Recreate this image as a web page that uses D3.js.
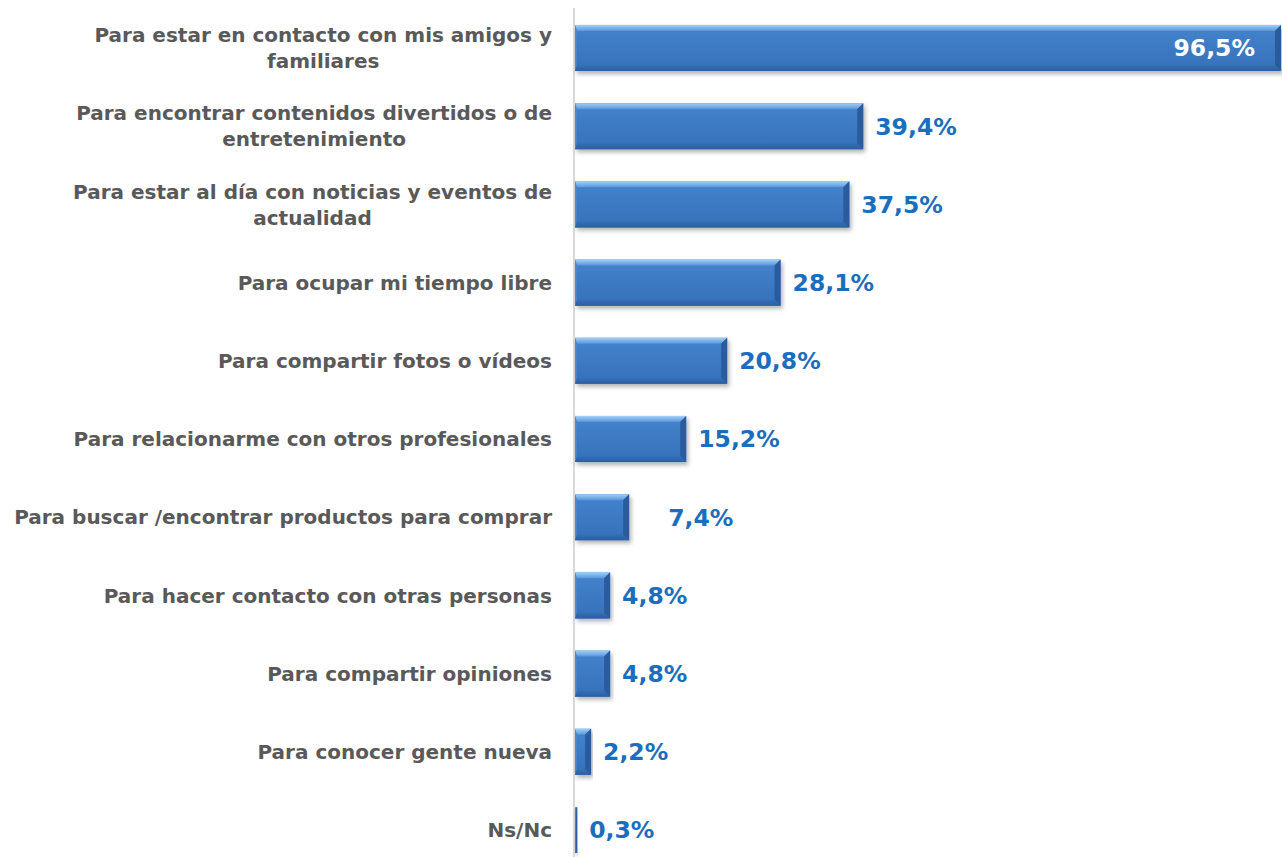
<!DOCTYPE html>
<html>
<head>
<meta charset="utf-8">
<script src="https://cdn.jsdelivr.net/npm/d3@7"></script>
<style>
html,body{margin:0;padding:0;background:#fff;}
svg{display:block;}
</style>
</head>
<body>
<svg id="chart" width="1282" height="857"></svg>
<script>
const categories = [
  "Para estar en contacto con mis amigos y|familiares",
  "Para encontrar contenidos divertidos o de|entretenimiento",
  "Para estar al día con noticias y eventos de|actualidad",
  "Para ocupar mi tiempo libre",
  "Para compartir fotos o vídeos",
  "Para relacionarme con otros profesionales",
  "Para buscar /encontrar productos para comprar",
  "Para hacer contacto con otras personas",
  "Para compartir opiniones",
  "Para conocer gente nueva",
  "Ns/Nc"
];
const values = [96.5, 39.4, 37.5, 28.1, 20.8, 15.2, 7.4, 4.8, 4.8, 2.2, 0.3];
const valueLabels = ["96,5%", "39,4%", "37,5%", "28,1%", "20,8%", "15,2%", "7,4%", "4,8%", "4,8%", "2,2%", "0,3%"];

const data = categories.map((c, i) => ({cat: c, value: values[i], label: valueLabels[i], i}));

const svg = d3.select("#chart");
const W = 1282, H = 857;
const x0 = 575;
const x = d3.scaleLinear().domain([0, 96.5]).range([x0, 1281]);
const y = d3.scaleBand().domain(d3.range(categories.length))
  .range([8.9, 869.1]).paddingInner(0.41).paddingOuter(0.205);

const defs = svg.append("defs");
const g1 = defs.append("linearGradient").attr("id", "face").attr("x1", 0).attr("y1", 0).attr("x2", 0).attr("y2", 1);
[[0, "#4683cd"], [0.5, "#3d7ac4"], [1, "#3570b9"]].forEach(s => g1.append("stop").attr("offset", s[0]).attr("stop-color", s[1]));
const gTop = defs.append("linearGradient").attr("id", "top").attr("x1", 0).attr("y1", 0).attr("x2", 0).attr("y2", 1);
[[0, "#a3d0f5"], [1, "#5796dc"]].forEach(s => gTop.append("stop").attr("offset", s[0]).attr("stop-color", s[1]));
const gBot = defs.append("linearGradient").attr("id", "bot").attr("x1", 0).attr("y1", 0).attr("x2", 0).attr("y2", 1);
[[0, "#3570b9"], [1, "#2b5e9f"]].forEach(s => gBot.append("stop").attr("offset", s[0]).attr("stop-color", s[1]));
const filt = defs.append("filter").attr("id", "shadow").attr("x", "-5%").attr("y", "-20%").attr("width", "115%").attr("height", "160%");
filt.append("feDropShadow").attr("dx", 2).attr("dy", 3).attr("stdDeviation", 2).attr("flood-color", "#000").attr("flood-opacity", 0.3);

// axis line
svg.append("line").attr("x1", 574).attr("x2", 574).attr("y1", 8).attr("y2", H)
  .attr("stroke", "#d9d9d9").attr("stroke-width", 2);

const bars = svg.append("g").selectAll("g.bar").data(data).join("g").attr("class", "bar");

bars.each(function(d) {
  const g = d3.select(this);
  const X0 = x(0), X1 = x(d.value), Y0 = y(d.i), Y1 = y(d.i) + y.bandwidth();
  const w = X1 - X0;
  const b = Math.min(6, w / 2);
  const pts = a => a.map(p => p.join(",")).join(" ");
  g.append("rect").attr("x", X0).attr("y", Y0).attr("width", w).attr("height", Y1 - Y0)
    .attr("fill", "url(#face)").attr("filter", "url(#shadow)");
  // top bevel
  g.append("polygon").attr("points", pts([[X0, Y0], [X1, Y0], [X1 - b, Y0 + b], [X0 + b * 0.3, Y0 + b]]))
    .attr("fill", "url(#top)");
  // bottom bevel
  g.append("polygon").attr("points", pts([[X0, Y1], [X1, Y1], [X1 - b, Y1 - b], [X0 + b * 0.3, Y1 - b]]))
    .attr("fill", "url(#bot)");
  // right bevel
  g.append("polygon").attr("points", pts([[X1, Y0], [X1, Y1], [X1 - b, Y1 - b], [X1 - b, Y0 + b]]))
    .attr("fill", "#2a5b9c");
  // left edge
  g.append("polygon").attr("points", pts([[X0, Y0], [X0 + b * 0.3, Y0 + b], [X0 + b * 0.3, Y1 - b], [X0, Y1]]))
    .attr("fill", "#4a88d2");
});

// value labels
svg.append("g").selectAll("text").data(data).join("text")
  .attr("x", d => d.i === 0 ? x(d.value) - 26 : x(d.value) + 12 + (d.value === 7.4 ? 27 : 0))
  .attr("y", d => y(d.i) + y.bandwidth() / 2)
  .attr("dy", "0.36em")
  .attr("text-anchor", d => d.i === 0 ? "end" : "start")
  .attr("fill", d => d.i === 0 ? "#ffffff" : "#1b6ebd")
  .style("font-family", "'DejaVu Sans', sans-serif")
  .style("font-weight", "bold")
  .style("font-size", "23.5px")
  .text(d => d.label);

// category labels
const labelG = svg.append("g");
data.forEach(d => {
  const lines = d.cat.split("|");
  const cy = y(d.i) + y.bandwidth() / 2;
  const t = labelG.append("text")
    .attr("fill", "#595959")
    .style("font-family", "'DejaVu Sans', sans-serif")
    .style("font-weight", "bold")
    .style("font-size", "20px");
  const lh = 26;
  const spans = lines.map((ln, k) => t.append("tspan").attr("y", cy + (k - (lines.length - 1) / 2) * lh).attr("dy", "0.36em").text(ln));
  const widths = spans.map(s => s.node().getComputedTextLength());
  const maxW = Math.max(...widths);
  const right = 552;
  if (lines.length === 1) {
    spans[0].attr("x", right).attr("text-anchor", "end");
  } else {
    spans.forEach(s => s.attr("x", right - maxW / 2).attr("text-anchor", "middle"));
  }
});
</script>
</body>
</html>
